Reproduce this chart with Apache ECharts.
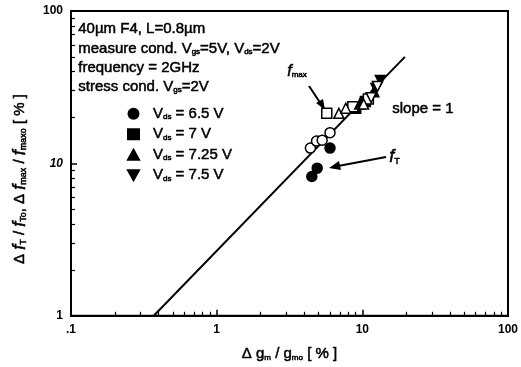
<!DOCTYPE html>
<html>
<head>
<meta charset="utf-8">
<script src="https://cdn.jsdelivr.net/npm/echarts@6/dist/echarts.min.js"></script>
<style>html,body{margin:0;padding:0;background:#fff}#c{width:521px;height:367px}</style>
</head>
<body>
<div id="c"></div>
<script>
// ---- data ----
const xMinorTicks = [0.2,0.3,0.4,0.5,0.6,0.7,0.8,0.9,2,3,4,5,6,7,8,9,20,30,40,50,60,70,80,90];
const yMinorTicks = [2,3,4,5,6,7,8,9,20,30,40,50,60,70,80,90];
const xTickLabels = {0.1: '.1', 1: '1', 10: '10', 100: '100'};
const yTickLabels = {1: '1', 10: '10', 100: '100'};

// fT (filled) and fmax (open) degradation vs gm degradation, per stress Vds
const ft_65   = [[4.5, 8.2], [4.9, 9.3], [6.0, 12.6]];
const fmax_65 = [[4.4, 12.6], [4.85, 14.0], [5.3, 14.2], [6.0, 15.9]];
const ft_70   = [[9.0, 23.0], [10.5, 25.5]];
const fmax_70 = [[5.7, 21.3], [8.6, 23.5], [11.0, 26.5]];
const ft_725  = [[9.6, 24.5], [12.0, 29.5]];
const fmax_725= [[6.9, 21.3], [7.7, 23.0], [10.2, 24.5]];
const ft_75   = [[12.4, 31.0], [13.3, 35.0]];
const fmax_75 = [[11.5, 27.0], [12.7, 32.0]];

// slope = 1 reference line
const slopeLineX = [0.37, 19.6];
const slopeLineY = [1, 50];

const F = 'Liberation Sans, Arial, sans-serif';

// rich styles for echarts components (legend, axis name)
const heavyE = {textBorderColor: '#000', textBorderWidth: 0.5};
const richBase = {
  n: Object.assign({fontSize: 15, fontFamily: F, color: '#000'}, heavyE),
  s: Object.assign({fontSize: 8, fontFamily: F, color: '#000', padding: [7, 0, 0, 0]}, heavyE),
  i: Object.assign({fontSize: 16, fontFamily: F, color: '#000', fontStyle: 'italic'}, heavyE),
};
// rich styles for zrender graphic texts
const heavyZ = {stroke: '#000', lineWidth: 0.5};
const richG = {
  n: Object.assign({fontSize: 15, fontFamily: F, fill: '#000'}, heavyZ),
  s: Object.assign({fontSize: 8, fontFamily: F, fill: '#000', padding: [7, 0, 0, 0]}, heavyZ),
  i: Object.assign({fontSize: 16, fontFamily: F, fill: '#000', fontStyle: 'italic'}, heavyZ),
};
const richGT = {
  n: Object.assign({fontSize: 15, fontFamily: F, fill: '#000'}, heavyZ),
  s: Object.assign({fontSize: 9, fontFamily: F, fill: '#000', padding: [8, 0, 0, 0]}, heavyZ),
  i: Object.assign({fontSize: 18, fontFamily: F, fill: '#000', fontStyle: 'italic'}, heavyZ),
};

const names = ['{n|V}{s|ds}{n| = 6.5 V}', '{n|V}{s|ds}{n| = 7 V}', '{n|V}{s|ds}{n| = 7.25 V}', '{n|V}{s|ds}{n| = 7.5 V}'];

function sc(name, data, symbol, filled, rot) {
  return {
    type: 'scatter', name: name, data: data, symbol: symbol, symbolSize: 10,
    symbolRotate: rot || 0, symbolKeepAspect: true,
    xAxisIndex: 0, yAxisIndex: 0, z: 5,
    itemStyle: {color: filled ? '#000' : '#fff', borderColor: '#000', borderWidth: 1.5, opacity: 1},
    emphasis: {disabled: true}
  };
}

const chart = echarts.init(document.getElementById('c'), null, {renderer: 'canvas'});
const grid = {left: 71, right: 9, top: 11, bottom: 51, show: true, borderColor: '#000', borderWidth: 2, backgroundColor: 'transparent'};

chart.setOption({
  animation: false,
  backgroundColor: '#fff',
  grid: grid,
  legend: {
    orient: 'vertical', left: 122, top: 101, itemWidth: 11, itemHeight: 10, itemGap: 5,
    selectedMode: false,
    data: [
      {name: names[0], icon: 'circle'},
      {name: names[1], icon: 'rect'},
      {name: names[2], icon: 'triangle'},
      {name: names[3], icon: 'path://M0,0 L10,0 L5,9 Z'}
    ],
    itemStyle: {color: '#000', borderColor: '#000', opacity: 1},
    textStyle: {color: '#000', fontFamily: F, fontSize: 15, padding: [0, 0, 0, 9], rich: richBase},
    formatter: n => n
  },
  xAxis: [
    {
      type: 'log', logBase: 10, min: 0.1, max: 100,
      axisLine: {lineStyle: {color: '#000', width: 2}},
      axisTick: {inside: true, length: 6, lineStyle: {color: '#000', width: 1.5}},
      axisLabel: {color: '#000', fontFamily: F, fontWeight: 'bold', fontSize: 12, margin: 8, formatter: v => xTickLabels[v] !== undefined ? xTickLabels[v] : ''},
      splitLine: {show: false},
      name: '{n|Δ g}{s|m}{n| / g}{s|mo}{n| [ % ]}', nameLocation: 'middle', nameGap: 31,
      nameTextStyle: {rich: richBase}
    },
    {
      type: 'log', logBase: 10, min: 0.1, max: 100, position: 'bottom',
      axisLine: {show: false},
      axisTick: {inside: true, length: 4, customValues: xMinorTicks, lineStyle: {color: '#000', width: 1.2}},
      axisLabel: {show: false}, splitLine: {show: false}
    }
  ],
  yAxis: [
    {
      type: 'log', logBase: 10, min: 1, max: 100,
      axisLine: {lineStyle: {color: '#000', width: 2}},
      axisTick: {inside: true, length: 6, lineStyle: {color: '#000', width: 1.5}},
      axisLabel: {color: '#000', fontFamily: F, fontWeight: 'bold', fontSize: 12, margin: 8, formatter: v => yTickLabels[v] !== undefined ? (v === 10 ? '{it|10}' : yTickLabels[v]) : '', rich: {it: {fontStyle: 'italic', fontWeight: 'bold', fontSize: 12, fontFamily: F, color: '#000'}}},
      splitLine: {show: false}
    },
    {
      type: 'log', logBase: 10, min: 1, max: 100, position: 'left',
      axisLine: {show: false},
      axisTick: {inside: true, length: 4, customValues: yMinorTicks, lineStyle: {color: '#000', width: 1.2}},
      axisLabel: {show: false}, splitLine: {show: false}
    }
  ],
  series: [
    {
      type: 'line', data: slopeLineX.map((x, i) => [x, slopeLineY[i]]),
      xAxisIndex: 0, yAxisIndex: 0, symbol: 'none', z: 3,
      lineStyle: {color: '#000', width: 2}, emphasis: {disabled: true}
    },
    sc(names[0], ft_65, 'circle', true),
    sc('fmax65', fmax_65, 'circle', false),
    sc(names[1], ft_70, 'rect', true),
    sc('fmax70', fmax_70, 'rect', false),
    sc(names[2], ft_725, 'triangle', true),
    sc('fmax725', fmax_725, 'triangle', false),
    sc(names[3], ft_75, 'triangle', true, 180),
    sc('fmax75', fmax_75, 'triangle', false, 180)
  ],
  graphic: [
    {type: 'text', x: 20, y: 179, rotation: Math.PI / 2,
      style: {text: '{n|Δ }{i|f}{s|T}{n| / }{i|f}{s|To}{n|, Δ }{i|f}{s|max}{n| / }{i|f}{s|maxo}{n| [ % ]}', rich: richGT, align: 'center', verticalAlign: 'middle'}},
    {type: 'text', left: 78, top: 21, style: {text: '{n|40µm F4, L=0.8µm}', rich: richG}},
    {type: 'text', left: 78, top: 41, style: {text: '{n|measure cond. V}{s|gs}{n|=5V, V}{s|ds}{n|=2V}', rich: richG}},
    {type: 'text', left: 78, top: 60, style: {text: '{n|frequency = 2GHz}', rich: richG}},
    {type: 'text', left: 78, top: 79, style: {text: '{n|stress cond. V}{s|gs}{n|=2V}', rich: richG}},
    {type: 'text', left: 392, top: 101, style: {text: '{n|slope = 1}', rich: richG}},
    {type: 'text', left: 287, top: 63, style: {text: '{i|f}{s|max}', rich: richG}},
    {type: 'text', left: 389, top: 148, style: {text: '{i|f}{s|T}', rich: richGT}},
    {type: 'polyline', shape: {points: [[309, 86], [321, 104]]}, style: {stroke: '#000', lineWidth: 2}},
    {type: 'polygon', shape: {points: [[325, 110], [316, 103], [323, 99]]}, style: {fill: '#000'}},
    {type: 'polyline', shape: {points: [[386, 157], [338, 166]]}, style: {stroke: '#000', lineWidth: 2}},
    {type: 'polygon', shape: {points: [[329, 168], [339, 161], [341, 170]]}, style: {fill: '#000'}}
  ]
});
</script>
</body>
</html>
